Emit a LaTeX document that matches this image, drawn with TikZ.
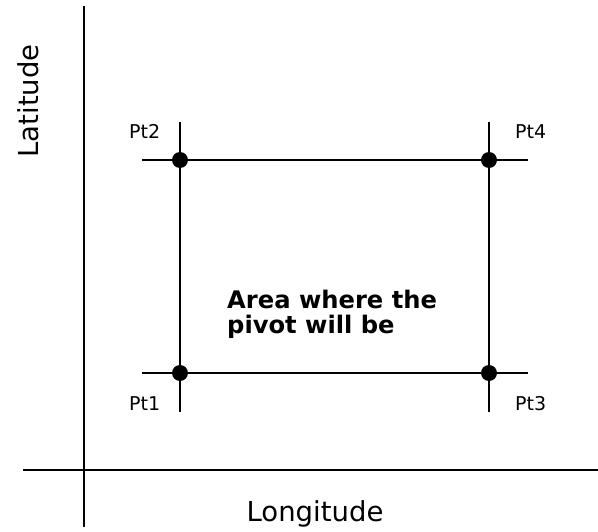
\documentclass[tikz,border=0pt]{standalone}
\usepackage{fontspec}
\setmainfont{DejaVu Sans}
\begin{document}
\begin{tikzpicture}[x=1pt,y=-1pt,
  ln/.style={line width=2.2pt, draw=black},
  dot/.style={circle, fill=black, inner sep=0pt, minimum size=16pt},
  ptlabel/.style={font=\fontsize{19}{20}\selectfont, inner sep=0pt, anchor=base west},
  axlabel/.style={font=\fontsize{27.5}{30}\selectfont, inner sep=0pt, anchor=base},
  arealabel/.style={font=\fontsize{24.2}{25}\selectfont\bfseries, inner sep=0pt, align=left, anchor=base west}]
\useasboundingbox (0,0) rectangle (598,532);
% axes
\coordinate (vt) at (84,6);
\coordinate (vb) at (84,527);
\coordinate (hl) at (23,470);
\coordinate (hr) at (598,470);
\draw[ln] (vt) -- (vb);
\draw[ln] (hl) -- (hr);
\node[axlabel, rotate=90] (lat) at (38,101) {Latitude};
\node[axlabel] (lon) at (315,521) {Longitude};
% grid line ends
\coordinate (l1t) at (180,122);
\coordinate (l1b) at (180,412);
\coordinate (l2t) at (489,122);
\coordinate (l2b) at (489,412);
\coordinate (h1l) at (142,160);
\coordinate (h1r) at (528,160);
\coordinate (h2l) at (142,373);
\coordinate (h2r) at (528,373);
\draw[ln] (l1t) -- (l1b);
\draw[ln] (l2t) -- (l2b);
\draw[ln] (h1l) -- (h1r);
\draw[ln] (h2l) -- (h2r);
% corner points
\node[dot] (p1) at (180,373) {};
\node[dot] (p2) at (180,160) {};
\node[dot] (p3) at (489,373) {};
\node[dot] (p4) at (489,160) {};
\node[ptlabel] (t2) at (129,139) {Pt2};
\node[ptlabel] (t4) at (515,139) {Pt4};
\node[ptlabel] (t1) at (129,410) {Pt1};
\node[ptlabel] (t3) at (515,410) {Pt3};
\node[arealabel] (area) at (227,334) {Area where the\\pivot will be};
\end{tikzpicture}
\end{document}
